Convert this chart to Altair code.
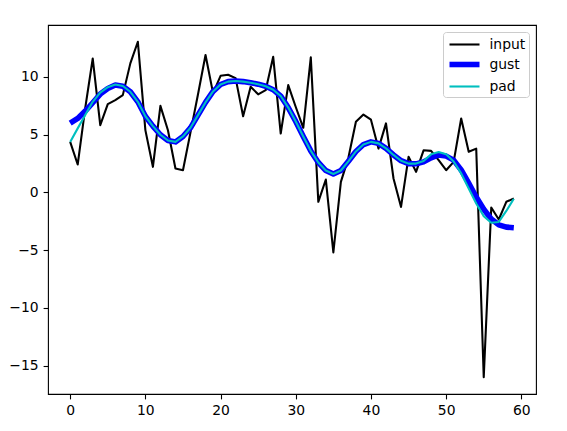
import altair as alt
import pandas as pd

x_vals = list(range(60))
input_vals = [4.38, 2.42, 7.3, 11.6, 5.83, 7.65, 8.0, 8.43, 11.18, 13.05,
              5.4, 2.22, 7.5, 5.39, 2.08, 1.93, 5.2, 8.5, 11.9, 8.6,
              10.1, 10.2, 9.9, 6.6, 9.15, 8.5, 8.86, 11.75, 5.1, 9.3,
              7.4, 5.6, 11.7, -0.81, 1.12, -5.2, 0.92, 3.0, 6.12, 6.75,
              6.3, 3.8, 5.98, 1.21, -1.25, 3.09, 1.79, 3.65, 3.6, 2.8,
              1.93, 2.65, 6.41, 3.52, 3.8, -16.0, -1.3, -2.34, -0.81, -0.52]
gust_vals = [6.0, 6.41, 7.05, 7.77, 8.52, 9.0, 9.3, 9.2, 8.72, 7.85,
             6.6, 5.75, 5.0, 4.5, 4.38, 4.85, 5.6, 6.7, 7.8, 8.75,
             9.35, 9.6, 9.66, 9.6, 9.5, 9.38, 9.2, 8.9, 8.35, 7.35,
             6.15, 4.85, 3.6, 2.6, 1.9, 1.6, 1.9, 2.7, 3.55, 4.15,
             4.38, 4.25, 3.82, 3.25, 2.75, 2.5, 2.48, 2.65, 3.0, 3.25,
             3.15, 2.8, 1.95, 0.8, -0.4, -1.45, -2.3, -2.8, -3.0, -3.05]
pad_vals = [4.38, 5.55, 6.7, 7.85, 8.65, 9.12, 9.35, 9.22, 8.72, 7.85,
            6.6, 5.75, 5.0, 4.5, 4.38, 4.85, 5.6, 6.7, 7.8, 8.75,
            9.35, 9.6, 9.66, 9.6, 9.5, 9.38, 9.2, 8.9, 8.35, 7.35,
            6.15, 4.85, 3.6, 2.6, 1.9, 1.6, 1.9, 2.7, 3.55, 4.15,
            4.38, 4.25, 3.82, 3.25, 2.75, 2.5, 2.5, 2.72, 3.3, 3.5,
            3.3, 2.68, 1.65, 0.35, -0.95, -2.05, -2.62, -2.55, -1.6, -0.55]
series_names = ["input", "gust", "pad"]
series_colors = ["#000000", "#0000ff", "#00bfbf"]
series_widths = [2.08, 5.56, 2.08]
x_ticks = [0, 10, 20, 30, 40, 50, 60]
y_ticks = [-15, -10, -5, 0, 5, 10]

rows = []
for name, vals in zip(series_names, [input_vals, gust_vals, pad_vals]):
    for xv, yv in zip(x_vals, vals):
        rows.append({"x": xv, "y": yv, "series": name})
df = pd.DataFrame(rows)

all_y = input_vals + gust_vals + pad_vals
ymin, ymax = min(all_y), max(all_y)
ym = (ymax - ymin) * 0.05
xm = (max(x_vals) - min(x_vals)) * 0.05

FONT = "DejaVu Sans"

legend = alt.Legend(
    title=None, orient="top-right", offset=7, symbolType="M-1,0H3",
    symbolSize=225, labelFontSize=13.9, labelFont=FONT, labelOffset=22,
    padding=3.5, rowPadding=1.5, strokeColor="#cccccc",
    fillColor="rgba(255,255,255,0.8)", cornerRadius=3, labelColor="black",
    symbolOpacity=1,
)

xenc = alt.X("x:Q", scale=alt.Scale(domain=[min(x_vals) - xm, max(x_vals) + xm], nice=False, zero=False),
             axis=alt.Axis(values=x_ticks, title=None, grid=False, domain=False, tickColor="black",
                           tickWidth=1.1, tickSize=4.9, labelPadding=4.9, labelFont=FONT,
                           labelFontSize=13.9, labelColor="black", labelFlush=False))
yenc = alt.Y("y:Q", scale=alt.Scale(domain=[ymin - ym, ymax + ym], nice=False, zero=False),
             axis=alt.Axis(values=y_ticks, title=None, grid=False, domain=False, tickColor="black",
                           tickWidth=1.1, tickSize=4.9, labelPadding=4.9, labelFont=FONT,
                           labelFontSize=13.9, labelColor="black",
                           labelExpr="replace(datum.label, '-', '\u2212')"))
color = alt.Color("series:N", scale=alt.Scale(domain=series_names, range=series_colors), legend=legend)
sw = alt.StrokeWidth("series:N", scale=alt.Scale(type="ordinal", domain=series_names, range=series_widths),
                     legend=legend)

layers = []
for name in series_names:
    layers.append(
        alt.Chart(df).transform_filter(alt.datum.series == name)
        .mark_line(strokeJoin="round", strokeCap="butt")
        .encode(x=xenc, y=yenc, color=color, strokeWidth=sw)
    )

chart = alt.layer(*layers).properties(
    width=488, height=369,
    autosize=alt.AutoSizeParams(type="none"),
    padding={"left": 40, "top": 17, "right": 20, "bottom": 30},
).configure(background="white").configure_view(stroke="black", strokeWidth=1.1)

chart.save("out.html", embed_options={"renderer": "svg", "actions": False})
